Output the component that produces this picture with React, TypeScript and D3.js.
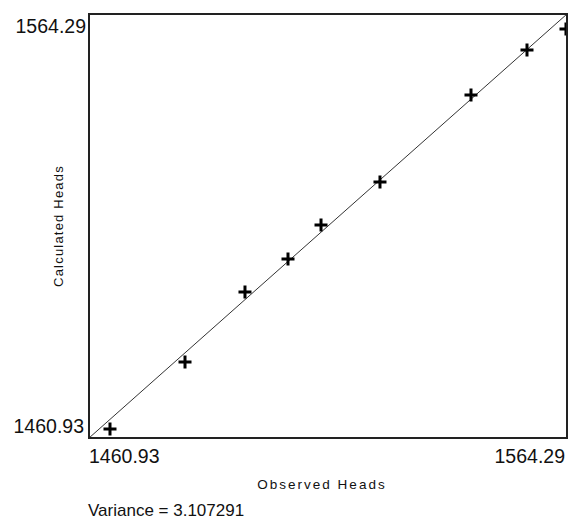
import React, { useEffect, useRef } from 'react';
import * as d3 from 'd3';

// observed vs calculated heads
const observed = [1465.47, 1481.69, 1494.66, 1503.96, 1511.1, 1523.85, 1543.53, 1555.64, 1564.07];
const calculated = [1463.12, 1479.46, 1496.52, 1504.57, 1512.85, 1523.34, 1544.54, 1555.51, 1560.63];
const axisMin = 1460.93;
const axisMax = 1564.29;
const tickLabels = ['1460.93', '1564.29'];
const varianceText = 'Variance = 3.107291';

const App = () => {
	const chartRef = useRef<SVGSVGElement>(null);

	useEffect(() => {
		document.body.style.margin = '0';
		if (!chartRef.current) return;
		const svg = d3.select(chartRef.current);
		svg.selectAll('*').remove();

		const margin = { top: 14, right: 14, bottom: 81, left: 89 };
		const width = 581;
		const height = 519;

		const x = d3.scaleLinear().domain([axisMin, axisMax]).range([margin.left, width - margin.right]);
		const y = d3.scaleLinear().domain([axisMin, axisMax]).range([height - margin.bottom, margin.top]);

		const font = 'Arial, "Liberation Sans", sans-serif';

		svg.append('rect')
			.attr('width', width)
			.attr('height', height)
			.attr('fill', '#fff');

		svg.append('defs').append('clipPath')
			.attr('id', 'plot-clip')
			.append('rect')
			.attr('x', x(axisMin))
			.attr('y', y(axisMax))
			.attr('width', x(axisMax) - x(axisMin))
			.attr('height', y(axisMin) - y(axisMax));

		// 1:1 line
		svg.append('line')
			.attr('x1', x(axisMin))
			.attr('y1', y(axisMin))
			.attr('x2', x(axisMax))
			.attr('y2', y(axisMax))
			.attr('stroke', '#333')
			.attr('stroke-width', 1);

		const pts = observed.map((d, i) => ({ ox: d, cy: calculated[i] }));
		const marks = svg.append('g').attr('clip-path', 'url(#plot-clip)');
		marks.selectAll('path.mark')
			.data(pts)
			.enter()
			.append('path')
			.attr('class', 'mark')
			.attr('d', d => {
				const cx = x(d.ox);
				const cy = y(d.cy);
				return `M${cx - 6.5},${cy}H${cx + 6.5}M${cx},${cy - 6.5}V${cy + 6.5}`;
			})
			.attr('stroke', '#000')
			.attr('stroke-width', 3)
			.attr('fill', 'none');

		// frame
		svg.append('rect')
			.attr('x', x(axisMin))
			.attr('y', y(axisMax))
			.attr('width', x(axisMax) - x(axisMin))
			.attr('height', y(axisMin) - y(axisMax))
			.attr('fill', 'none')
			.attr('stroke', '#222')
			.attr('stroke-width', 2);

		const tickText = (tx: number, ty: number, anchor: string, label: string) => {
			svg.append('text')
				.attr('x', tx)
				.attr('y', ty)
				.attr('text-anchor', anchor)
				.style('font-family', font)
				.style('font-size', '19.5px')
				.attr('fill', '#111')
				.text(label);
		};

		// y tick labels
		tickText(x(axisMin) - 3, y(axisMax) + 19, 'end', tickLabels[1]);
		tickText(x(axisMin) - 5, y(axisMin) - 5, 'end', tickLabels[0]);
		// x tick labels
		tickText(x(axisMin), y(axisMin) + 25, 'start', tickLabels[0]);
		tickText(x(axisMax) - 2, y(axisMin) + 25, 'end', tickLabels[1]);

		// axis titles
		svg.append('text')
			.attr('x', 322)
			.attr('y', y(axisMin) + 51)
			.attr('text-anchor', 'middle')
			.style('font-family', font)
			.style('font-size', '13.5px')
			.style('letter-spacing', '2px')
			.attr('fill', '#111')
			.text('Observed Heads');

		svg.append('text')
			.attr('transform', `translate(63,${(y(axisMin) + y(axisMax)) / 2}) rotate(-90)`)
			.attr('text-anchor', 'middle')
			.style('font-family', font)
			.style('font-size', '13px')
			.style('letter-spacing', '1.2px')
			.attr('fill', '#111')
			.text('Calculated Heads');

		svg.append('text')
			.attr('x', x(axisMin) - 1)
			.attr('y', 516)
			.style('font-family', font)
			.style('font-size', '17px')
			.attr('fill', '#111')
			.text(varianceText);
	}, []);

	return <svg ref={chartRef} width={581} height={519} style={{ display: 'block' }}></svg>;
};

export default App;
